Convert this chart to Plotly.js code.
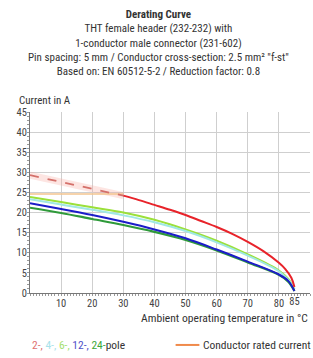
<!DOCTYPE html>
<html>
<head>
<meta charset="utf-8">
<script src="https://cdn.plot.ly/plotly-3.0.1.min.js"></script>
<style>html,body{margin:0;padding:0;background:#fff;}#chart{width:313px;height:358px;}</style>
</head>
<body>
<div id="chart"></div>
<script>
// Data
const temps = [0, 10, 20, 30, 40, 50, 60, 70, 80, 83, 85];
const pole6 = [23.9, 22.6, 21.3, 20.0, 18.2, 15.8, 13.0, 9.6, 5.6, 3.5, 1.0];
const pole4 = [23.3, 22.0, 20.7, 19.3, 17.6, 15.4, 12.6, 9.3, 5.4, 3.3, 1.0];
const pole12 = [22.3, 20.9, 19.4, 17.7, 15.8, 13.6, 10.8, 7.8, 4.6, 3.0, 0.5];
const pole24 = [21.2, 19.9, 18.4, 16.9, 15.2, 13.2, 10.6, 7.6, 4.5, 2.8, 0.5];
const dashedTemps = [0, 30];
const dashedVals = [29.3, 24.2];
const ratedTemps = [0, 30];
const ratedVals = [24.6, 24.6];
const redTemps = [30, 35, 40, 45, 50, 55, 60, 65, 70, 75, 80, 82, 84, 85];
const redVals = [24.2, 23.1, 21.9, 20.7, 19.4, 17.9, 16.4, 14.7, 12.7, 10.4, 7.5, 6.0, 3.8, 1.5];
const xTicks = [10, 20, 30, 40, 50, 60, 70, 80];
const xTickExtra = [85];
const yTicks = [0, 5, 10, 15, 20, 25, 30, 35, 40, 45];

const FONT = "'Roboto Condensed', 'Liberation Sans Narrow', 'DejaVu Sans Condensed', Roboto, sans-serif";

const traces = [
  {x: dashedTemps, y: dashedVals, mode: 'lines', line: {color: 'rgba(250,170,160,0.3)', width: 7}, hoverinfo: 'skip'},
  {x: ratedTemps, y: ratedVals, mode: 'lines', line: {color: '#f3c58f', width: 1.5}},
  {x: temps, y: pole6, mode: 'lines', line: {color: '#9be03a', width: 2, shape: 'spline'}},
  {x: temps, y: pole4, mode: 'lines', line: {color: '#9fe8e4', width: 2, shape: 'spline'}},
  {x: temps, y: pole24, mode: 'lines', line: {color: '#2f9a3a', width: 2.2, shape: 'spline'}},
  {x: temps, y: pole12, mode: 'lines', line: {color: '#1c1cc8', width: 2, shape: 'spline'}},
  {x: dashedTemps, y: dashedVals, mode: 'lines', line: {color: '#d4706a', width: 1.8, dash: 'dash'}},
  {x: redTemps, y: redVals, mode: 'lines', line: {color: '#e8232a', width: 2, shape: 'spline'}},
  {x: xTickExtra, y: [0], xaxis: 'x2', mode: 'markers', marker: {opacity: 0}, hoverinfo: 'skip'}
];

const layout = {
  width: 313, height: 358,
  margin: {l: 30, r: 3, t: 112, b: 65},
  showlegend: false,
  paper_bgcolor: '#fff', plot_bgcolor: '#fff',
  font: {family: FONT, size: 10, color: '#444'},
  xaxis: {
    range: [0, 90], tickvals: xTicks, ticktext: xTicks.map(String),
    showgrid: true, gridcolor: '#cfcfcf', gridwidth: 1,
    zeroline: false, showline: true, linecolor: '#777', linewidth: 1,
    ticks: '', tickfont: {size: 10.5, color: '#444'},
    minor: {dtick: 1, ticks: 'outside', ticklen: 2, tickcolor: '#999', showgrid: false}
  },
  xaxis2: {
    overlaying: 'x', range: [0, 90], tickvals: xTickExtra, ticktext: xTickExtra.map(String),
    showgrid: false, zeroline: false, showline: false, side: 'bottom',
    tickfont: {size: 10.5, color: '#444'}, anchor: 'y'
  },
  yaxis: {
    range: [0, 45], tickvals: yTicks, ticktext: yTicks.map(String),
    showgrid: true, gridcolor: '#cfcfcf', gridwidth: 1,
    zeroline: false, showline: true, linecolor: '#777', linewidth: 1,
    ticks: '', tickfont: {size: 10.5, color: '#444'},
    minor: {dtick: 1, ticks: 'outside', ticklen: 2, tickcolor: '#999', showgrid: false}
  },
  annotations: [
    {xref: 'paper', yref: 'paper', x: 0.46, y: 1, yshift: 32, xanchor: 'center', yanchor: 'bottom', showarrow: false,
     align: 'center', font: {family: FONT, size: 11, color: '#333'},
     text: '<b>Derating Curve</b><br>THT female header (232-232) with<br>1-conductor male connector (231-602)<br>Pin spacing: 5 mm / Conductor cross-section: 2.5 mm² "f-st"<br>Based on: EN 60512-5-2 / Reduction factor: 0.8'},
    {xref: 'paper', yref: 'paper', x: 0, xshift: -13, y: 1, yshift: 12, xanchor: 'left', yanchor: 'middle', showarrow: false,
     font: {family: FONT, size: 11, color: '#333'}, text: 'Current in A'},
    {xref: 'paper', yref: 'paper', x: 1, y: 0, yshift: -25, xanchor: 'right', yanchor: 'middle', showarrow: false,
     font: {family: FONT, size: 11.6, color: '#333'}, text: 'Ambient operating temperature in °C'},
    {xref: 'paper', yref: 'paper', x: 0, y: 0, yshift: -52, xanchor: 'left', yanchor: 'middle', showarrow: false,
     font: {family: FONT, size: 11.5, color: '#333'},
     text: '<span style="color:#e07070">2-,</span> <span style="color:#a8e2ea">4-,</span> <span style="color:#a4e070">6-,</span> <span style="color:#5050c8">12-,</span> <span style="color:#3aa83a">24-</span>pole'},
    {xref: 'paper', yref: 'paper', x: 0.61, xshift: 0, y: 0, yshift: -52, xanchor: 'left', yanchor: 'middle', showarrow: false,
     font: {family: FONT, size: 11.5, color: '#333'}, text: 'Conductor rated current'}
  ],
  shapes: [
    {type: 'line', xref: 'paper', yref: 'paper', x0: 0.52, x1: 0.605, y0: -0.287, y1: -0.287,
     line: {color: '#f08a4b', width: 2}}
  ]
};

Plotly.newPlot('chart', traces, layout, {displayModeBar: false, staticPlot: true});
</script>
</body>
</html>
